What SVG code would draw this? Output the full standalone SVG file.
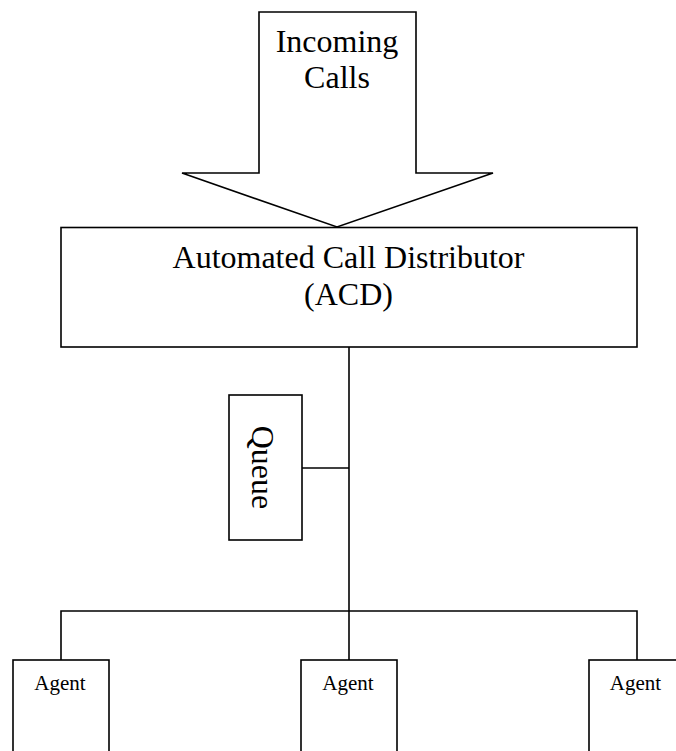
<svg xmlns="http://www.w3.org/2000/svg" width="676" height="751" viewBox="0 0 676 751">
<style>
.s{fill:#fff;stroke:#000;stroke-width:1.6}
.c{fill:none;stroke:#000;stroke-width:1.6}
text{font-family:"Liberation Serif","Times New Roman",serif;fill:#000;text-anchor:middle}
.big{font-size:32px}
.sm{font-size:21px}
</style>
<rect width="676" height="751" fill="#fff"/>
<g id="connectors">
<line class="c" x1="349" y1="347" x2="349" y2="611"/>
<line class="c" x1="302" y1="468" x2="349" y2="468"/>
<polyline class="c" points="61,660 61,611 637,611 637,660"/>
<line class="c" x1="349" y1="611" x2="349" y2="660"/>
</g>
<g id="incoming">
<polygon class="s" points="259,12 416,12 416,173 493,173 337,227 182,173 259,173"/>
<text class="big" x="337" y="52">Incoming</text>
<text class="big" x="337" y="88">Calls</text>
</g>
<g id="acd">
<rect class="s" x="61" y="227.5" width="576" height="119.5"/>
<text class="big" x="348.5" y="268">Automated Call Distributor</text>
<text class="big" x="348.5" y="305">(ACD)</text>
</g>
<g id="queue">
<rect class="s" x="229" y="395" width="73" height="145"/>
<text class="big" transform="translate(252,467.5) rotate(90)" x="0" y="0">Queue</text>
</g>
<g id="agent1">
<rect class="s" x="13" y="660" width="96" height="100"/>
<text class="sm" x="60" y="690">Agent</text>
</g>
<g id="agent2">
<rect class="s" x="301" y="660" width="96" height="100"/>
<text class="sm" x="348" y="690">Agent</text>
</g>
<g id="agent3">
<rect class="s" x="589" y="660" width="96" height="100"/>
<text class="sm" x="635.5" y="690">Agent</text>
</g>
</svg>
